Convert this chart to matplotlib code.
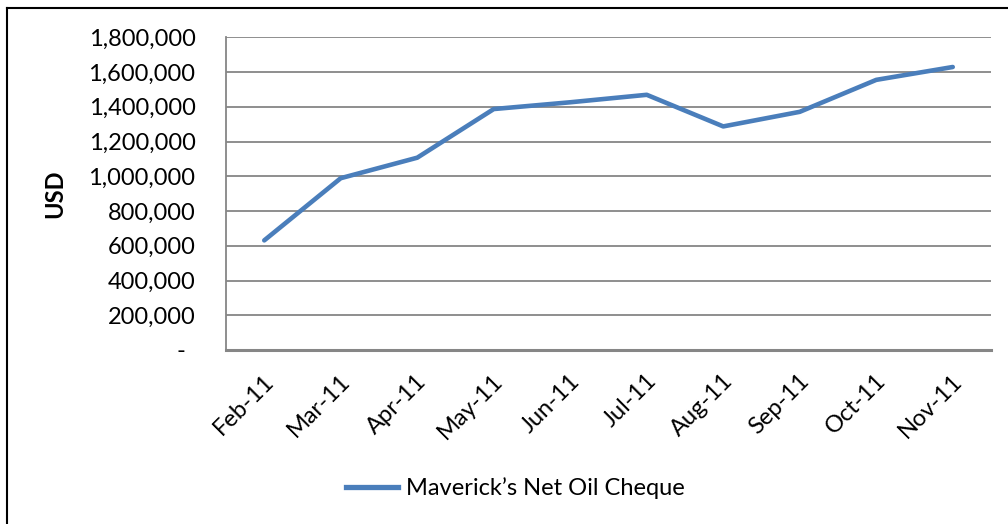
import matplotlib
matplotlib.use("Agg")
import matplotlib.pyplot as plt
from matplotlib.lines import Line2D
from matplotlib.transforms import ScaledTranslation

months = ["Feb-11", "Mar-11", "Apr-11", "May-11", "Jun-11", "Jul-11",
          "Aug-11", "Sep-11", "Oct-11", "Nov-11"]
net_oil_cheque = [631000, 989000, 1107000, 1387000, 1426000, 1469000,
                  1287000, 1371000, 1555000, 1629000]
ytick_values = [0, 200000, 400000, 600000, 800000, 1000000, 1200000,
                1400000, 1600000, 1800000]
ytick_labels = ["-", "200,000", "400,000", "600,000", "800,000", "1,000,000",
                "1,200,000", "1,400,000", "1,600,000", "1,800,000"]
series_name = "Maverick\u2019s Net Oil Cheque"

plt.rcParams['font.family'] = ['Lato', 'DejaVu Sans']

W, H = 1008, 524
fig = plt.figure(figsize=(W / 100, H / 100), dpi=100)
ax = fig.add_axes([226 / W, 1 - 350 / H, (991 - 226) / W, (350 - 37.3) / H])

x = list(range(len(months)))
ax.plot(x, net_oil_cheque, color="#4A7EBB", linewidth=3.3,
        solid_capstyle="round", solid_joinstyle="round", zorder=3)

FS = 17
ax.set_xlim(-0.5, len(months) - 0.5)
ax.set_ylim(0, 1800000)
ax.set_yticks(ytick_values)
ax.set_yticklabels(ytick_labels, fontsize=FS, color="#000000")
ax.set_xticks(x)
ax.set_xticklabels(months, fontsize=FS, rotation=45, ha="right",
                   rotation_mode="anchor", va="center")

ax.tick_params(axis="y", length=0, pad=22)
ax.tick_params(axis="x", length=0, pad=20)
for lab in ax.get_xticklabels():
    lab.set_transform(lab.get_transform() + ScaledTranslation(6 / 100, 0, fig.dpi_scale_trans))
zero_lab = ax.get_yticklabels()[0]
zero_lab.set_transform(zero_lab.get_transform() + ScaledTranslation(-10 / 100, 0, fig.dpi_scale_trans))

ax.grid(axis="y", color="#868686", linewidth=1.3, zorder=0)
ax.set_axisbelow(True)
for s in ["top", "right"]:
    ax.spines[s].set_visible(False)
ax.spines["left"].set_color("#868686")
ax.spines["left"].set_linewidth(1.3)
ax.spines["bottom"].set_color("#868686")
ax.spines["bottom"].set_linewidth(2.2)

ax.set_ylabel("USD", fontsize=FS, fontweight="bold", labelpad=0)
ax.yaxis.set_label_coords((66 - 226) / (991 - 226), 0.5)

leg_handle = Line2D([0], [0], color="#4A7EBB", linewidth=3.8)
fig.legend([leg_handle], [series_name], loc="center left",
           bbox_to_anchor=(346 / W, 1 - 488 / H), frameon=False,
           fontsize=FS, handlelength=2.2, handletextpad=0.35,
           borderpad=0, borderaxespad=0)

# outer chart border (top and left visible)
fig.add_artist(Line2D([7 / W, 1], [1 - 8 / H, 1 - 8 / H], color="black", linewidth=1.5))
fig.add_artist(Line2D([7 / W, 7 / W], [0, 1 - 8 / H], color="black", linewidth=1.5))

fig.savefig("out.png", dpi=100)
